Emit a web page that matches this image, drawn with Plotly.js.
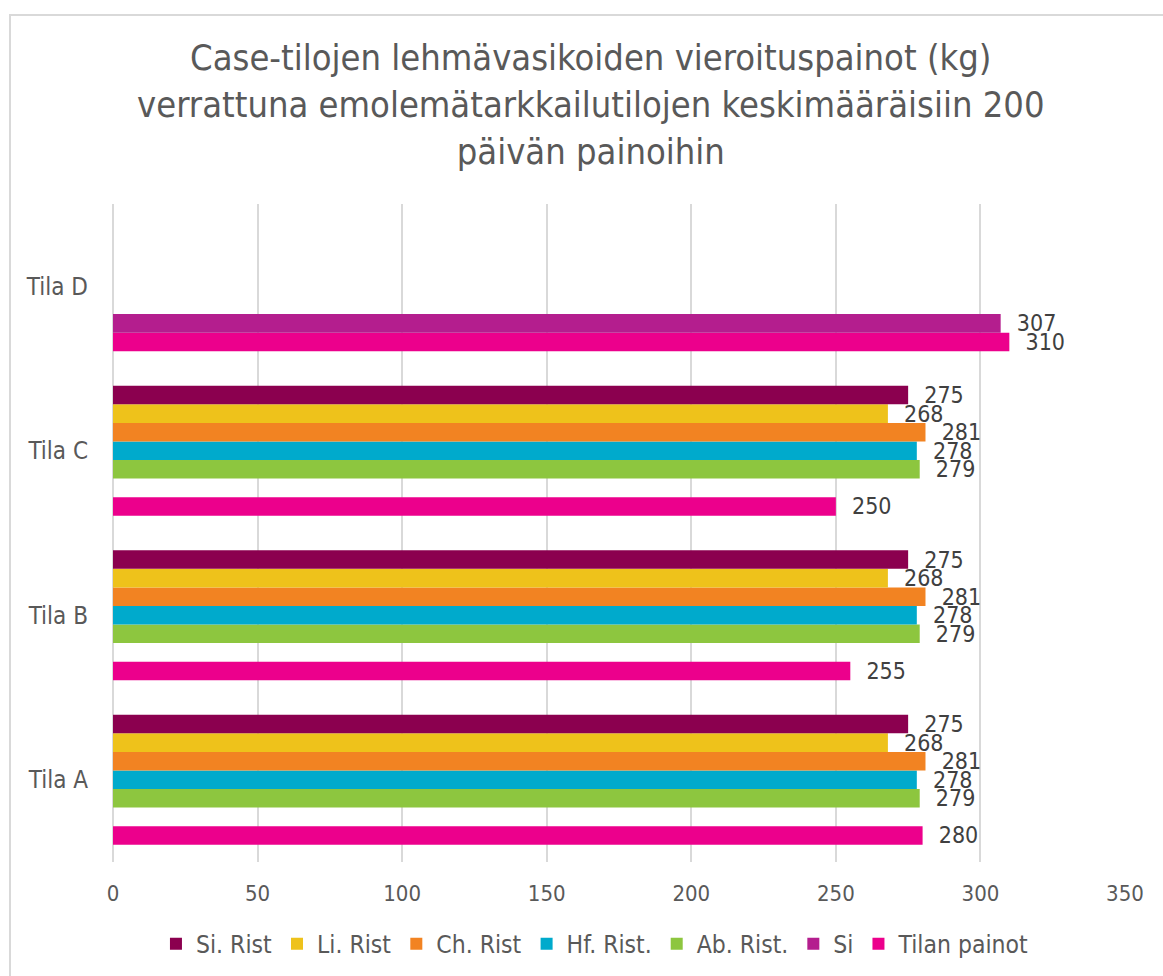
<!DOCTYPE html>
<html>
<head>
<meta charset="utf-8">
<script src="https://cdn.plot.ly/plotly-3.0.1.min.js"></script>
<style>
  html, body { margin: 0; padding: 0; background: white; overflow: hidden; }
  #chart { width: 1163px; height: 976px; }
  #frame {
    position: absolute; left: 9px; top: 14px; width: 1200px; height: 1000px;
    border: 2px solid #d9d9d9; pointer-events: none;
  }
</style>
</head>
<body>
<div id="chart"></div>
<div id="frame"></div>
<script>
/* Weaning weights of cow calves on case farms vs. average 200-day weights. */
const categories = ["Tila A", "Tila B", "Tila C", "Tila D"];

const siRist = [275, 275, 275, null];
const liRist = [268, 268, 268, null];
const chRist = [281, 281, 281, null];
const hfRist = [278, 278, 278, null];
const abRist = [279, 279, 279, null];
const si = [null, null, null, 307];
const tilanPainot = [280, 255, 250, 310];

const seriesNames = ["Si. Rist", "Li. Rist", "Ch. Rist", "Hf. Rist.", "Ab. Rist.", "Si", "Tilan painot"];
const seriesValues = [siRist, liRist, chRist, hfRist, abRist, si, tilanPainot];
const seriesColors = ["#8b004f", "#eec21b", "#f28322", "#00aacc", "#8dc63f", "#b41e8e", "#ec008c"];

const FONT = '"DejaVu Sans Condensed", "DejaVu Sans", sans-serif';

function barTrace(i) {
  return {
    type: "bar",
    orientation: "h",
    name: seriesNames[i],
    y: categories,
    x: seriesValues[i],
    marker: { color: seriesColors[i], line: { width: 0 } },
    texttemplate: "\u00a0\u00a0%{x}",
    textposition: "outside",
    constraintext: "none",
    cliponaxis: false,
    textfont: { family: FONT, size: 23, color: "#404040" },
    hovertemplate: "%{y}<br>" + seriesNames[i] + ": %{x}<extra></extra>"
  };
}

// plotly stacks horizontal groups from the bottom, so feed the last series first
const traces = [];
for (let i = seriesNames.length - 1; i >= 0; i--) traces.push(barTrace(i));

const layout = {
  width: 1163,
  height: 976,
  paper_bgcolor: "rgba(0,0,0,0)",
  plot_bgcolor: "white",
  font: { family: FONT, size: 22, color: "#595959" },
  title: {
    text: "Case-tilojen lehmävasikoiden vieroituspainot (kg)<br>verrattuna emolemätarkkailutilojen keskimääräisiin 200<br>päivän painoihin",
    font: { family: FONT, size: 36, color: "#595959" },
    x: 0.508,
    xanchor: "center",
    y: 0.928,
    yanchor: "top"
  },
  margin: { l: 113, r: 38, t: 204, b: 114 },
  barmode: "group",
  bargap: 0.21,
  bargroupgap: 0,
  showlegend: true,
  legend: {
    orientation: "h",
    traceorder: "reversed",
    xref: "container",
    yref: "container",
    x: 0.512,
    xanchor: "center",
    y: 0.033,
    yanchor: "middle",
    font: { family: FONT, size: 24.5, color: "#595959" }
  },
  xaxis: {
    range: [0, 350],
    dtick: 50,
    showgrid: true,
    gridcolor: "#d9d9d9",
    gridwidth: 2,
    zeroline: true,
    zerolinecolor: "#d9d9d9",
    zerolinewidth: 2,
    showline: false,
    ticks: "",
    ticklabelstandoff: 16,
    tickfont: { family: FONT, size: 22, color: "#595959" },
    automargin: false,
    fixedrange: true
  },
  yaxis: {
    type: "category",
    categoryorder: "array",
    categoryarray: categories,
    showgrid: false,
    zeroline: false,
    showline: false,
    ticks: "",
    ticklabelstandoff: 24,
    tickfont: { family: FONT, size: 24, color: "#595959" },
    automargin: false,
    fixedrange: true
  }
};

Plotly.newPlot("chart", traces, layout, { displayModeBar: false, staticPlot: true });
</script>
</body>
</html>
